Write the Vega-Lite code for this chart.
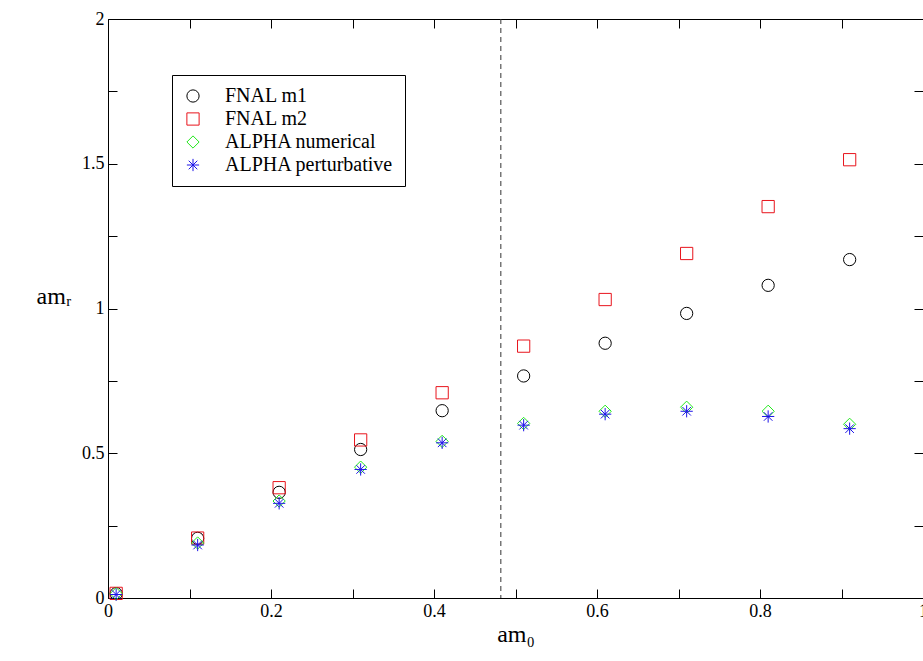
{
  "$schema": "https://vega.github.io/schema/vega-lite/v6.json",
  "width": 815,
  "height": 579,
  "autosize": "none",
  "padding": {"left": 108, "top": 19, "right": 0, "bottom": 63},
  "background": "white",
  "config": {
    "font": "Liberation Serif",
    "view": {"stroke": "black", "strokeWidth": 1},
    "axis": {"grid": false, "domain": false, "tickColor": "black", "labelColor": "black", "labelFontSize": 18, "titleFontSize": 24, "titleFontWeight": "normal", "titleColor": "black", "tickSize": -9}
  },
  "data": {"values": [
    {"x": 0.01, "y": 0.015, "s": "FNAL m1"}, {"x": 0.11, "y": 0.206, "s": "FNAL m1"}, {"x": 0.21, "y": 0.365, "s": "FNAL m1"}, {"x": 0.31, "y": 0.513, "s": "FNAL m1"}, {"x": 0.41, "y": 0.647, "s": "FNAL m1"}, {"x": 0.51, "y": 0.767, "s": "FNAL m1"}, {"x": 0.61, "y": 0.88, "s": "FNAL m1"}, {"x": 0.71, "y": 0.983, "s": "FNAL m1"}, {"x": 0.81, "y": 1.08, "s": "FNAL m1"}, {"x": 0.91, "y": 1.169, "s": "FNAL m1"},
    {"x": 0.01, "y": 0.016, "s": "FNAL m2"}, {"x": 0.11, "y": 0.207, "s": "FNAL m2"}, {"x": 0.21, "y": 0.381, "s": "FNAL m2"}, {"x": 0.31, "y": 0.546, "s": "FNAL m2"}, {"x": 0.41, "y": 0.709, "s": "FNAL m2"}, {"x": 0.51, "y": 0.87, "s": "FNAL m2"}, {"x": 0.61, "y": 1.031, "s": "FNAL m2"}, {"x": 0.71, "y": 1.19, "s": "FNAL m2"}, {"x": 0.81, "y": 1.352, "s": "FNAL m2"}, {"x": 0.91, "y": 1.514, "s": "FNAL m2"},
    {"x": 0.01, "y": 0.015, "s": "ALPHA numerical"}, {"x": 0.11, "y": 0.19, "s": "ALPHA numerical"}, {"x": 0.21, "y": 0.335, "s": "ALPHA numerical"}, {"x": 0.31, "y": 0.452, "s": "ALPHA numerical"}, {"x": 0.41, "y": 0.541, "s": "ALPHA numerical"}, {"x": 0.51, "y": 0.603, "s": "ALPHA numerical"}, {"x": 0.61, "y": 0.645, "s": "ALPHA numerical"}, {"x": 0.71, "y": 0.659, "s": "ALPHA numerical"}, {"x": 0.81, "y": 0.645, "s": "ALPHA numerical"}, {"x": 0.91, "y": 0.6, "s": "ALPHA numerical"},
    {"x": 0.01, "y": 0.012, "s": "ALPHA perturbative"}, {"x": 0.11, "y": 0.183, "s": "ALPHA perturbative"}, {"x": 0.21, "y": 0.327, "s": "ALPHA perturbative"}, {"x": 0.31, "y": 0.444, "s": "ALPHA perturbative"}, {"x": 0.41, "y": 0.536, "s": "ALPHA perturbative"}, {"x": 0.51, "y": 0.597, "s": "ALPHA perturbative"}, {"x": 0.61, "y": 0.635, "s": "ALPHA perturbative"}, {"x": 0.71, "y": 0.645, "s": "ALPHA perturbative"}, {"x": 0.81, "y": 0.627, "s": "ALPHA perturbative"}, {"x": 0.91, "y": 0.585, "s": "ALPHA perturbative"}
  ]},
  "layer": [
    {
      "mark": {"type": "point", "filled": false, "size": 150, "strokeWidth": 1, "opacity": 1},
      "encoding": {
        "x": {"field": "x", "type": "quantitative", "scale": {"domain": [0, 1], "nice": false}, "title": "am₀",
          "axis": {"values": [0, 0.1, 0.2, 0.3, 0.4, 0.5, 0.6, 0.7, 0.8, 0.9, 1], "labelExpr": "round(datum.value*10) % 2 == 0 ? format(datum.value, '~g') : ''", "labelPadding": 13, "labelFlush": false, "titlePadding": 2}},
        "y": {"field": "y", "type": "quantitative", "scale": {"domain": [0, 2], "nice": false}, "title": "amᵣ",
          "axis": {"values": [0, 0.25, 0.5, 0.75, 1, 1.25, 1.5, 1.75, 2], "labelExpr": "datum.value*2 == round(datum.value*2) ? format(datum.value, '~g') : ''", "labelFlush": false, "titleAngle": 0, "titlePadding": 28, "labelPadding": 13}},
        "color": {"field": "s", "type": "nominal", "title": null,
          "scale": {"domain": ["FNAL m1", "FNAL m2", "ALPHA numerical", "ALPHA perturbative"], "range": ["black", "#e8141c", "#22e81c", "#1c14e8"]},
          "legend": {"orient": "none", "legendX": 64, "legendY": 56, "strokeColor": "black", "padding": 11, "labelFontSize": 20, "symbolSize": 150, "labelLimit": 300, "rowPadding": 3, "symbolStrokeWidth": 1, "symbolOpacity": 1, "labelColor": "black", "labelOffset": 22}},
        "shape": {"field": "s", "type": "nominal",
          "scale": {"domain": ["FNAL m1", "FNAL m2", "ALPHA numerical", "ALPHA perturbative"], "range": ["circle", "square", "diamond", "M-1,0L1,0M0,-1L0,1M-0.7,-0.7L0.7,0.7M-0.7,0.7L0.7,-0.7"]}}
      }
    },
    {
      "data": {"values": [{"v": 0.482}]},
      "mark": {"type": "rule", "strokeDash": [5, 4], "color": "#333", "strokeWidth": 1},
      "encoding": {
        "x": {"field": "v", "type": "quantitative", "axis": {"orient": "top", "values": [0, 0.1, 0.2, 0.3, 0.4, 0.5, 0.6, 0.7, 0.8, 0.9, 1], "labels": false, "title": null}}
      }
    },
    {
      "data": {"values": [{"v": 0}]},
      "mark": {"type": "point", "opacity": 0},
      "encoding": {
        "y": {"field": "v", "type": "quantitative", "axis": {"orient": "right", "values": [0, 0.25, 0.5, 0.75, 1, 1.25, 1.5, 1.75, 2], "labels": false, "title": null}}
      }
    }
  ],
  "resolve": {"axis": {"x": "independent", "y": "independent"}}
}
